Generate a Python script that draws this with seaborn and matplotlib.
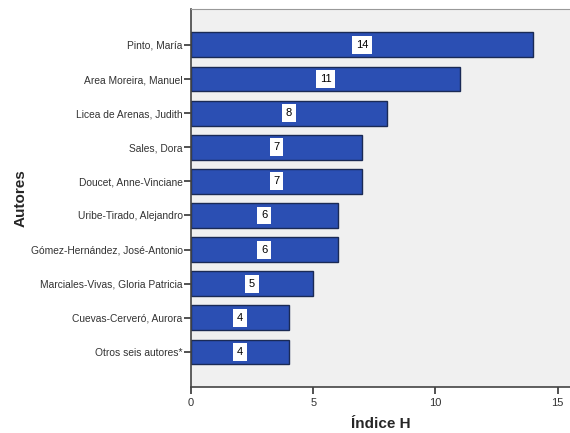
import matplotlib
matplotlib.use("Agg")
import matplotlib.pyplot as plt
import seaborn as sns
import pandas as pd

autores = [
    "Pinto, María",
    "Area Moreira, Manuel",
    "Licea de Arenas, Judith",
    "Sales, Dora",
    "Doucet, Anne-Vinciane",
    "Uribe-Tirado, Alejandro",
    "Gómez-Hernández, José-Antonio",
    "Marciales-Vivas, Gloria Patricia",
    "Cuevas-Cerveró, Aurora",
    "Otros seis autores*",
]
indice_h = [14, 11, 8, 7, 7, 6, 6, 5, 4, 4]

df = pd.DataFrame({"Autores": autores, "Índice H": indice_h})

sns.set_style("white")
plt.rcParams["font.family"] = ["Liberation Sans", "DejaVu Sans"]

fig = plt.figure(figsize=(5.7, 4.33), dpi=100)
ax = fig.add_axes([0.335, 0.106, 0.665, 0.873])
ax.set_facecolor("#f0f0f0")

sns.barplot(data=df, x="Índice H", y="Autores", order=autores,
            color="#2b4fb3", saturation=1, width=0.73,
            edgecolor="#1a2a55", linewidth=1.0, ax=ax)

for i, v in enumerate(indice_h):
    ax.text(v / 2, i, str(v), ha="center", va="center", fontsize=8, color="black",
            bbox=dict(boxstyle="square,pad=0.35", facecolor="white", edgecolor="none"))

ax.set_xlim(0, 15.5)
ax.set_ylim(len(autores) - 1 + 1.03, -1.05)
ax.set_xticks([0, 5, 10, 15])
ax.tick_params(axis="both", direction="out", length=5, width=1.2, color="#333333",
               labelsize=7.4, labelcolor="#333333", pad=1, bottom=True, left=True)
ax.tick_params(axis="x", pad=3, labelsize=8)

for side in ["left", "bottom"]:
    ax.spines[side].set_color("#444444")
    ax.spines[side].set_linewidth(1.2)
ax.spines["top"].set_color("#999999")
ax.spines["right"].set_visible(False)

ax.set_xlabel("Índice H", fontsize=11, fontweight="bold", labelpad=6)
ax.set_ylabel("Autores", fontsize=11, fontweight="bold")
ax.yaxis.set_label_coords(-0.43, 0.5)

fig.savefig("out.png", dpi=100, facecolor="white")
